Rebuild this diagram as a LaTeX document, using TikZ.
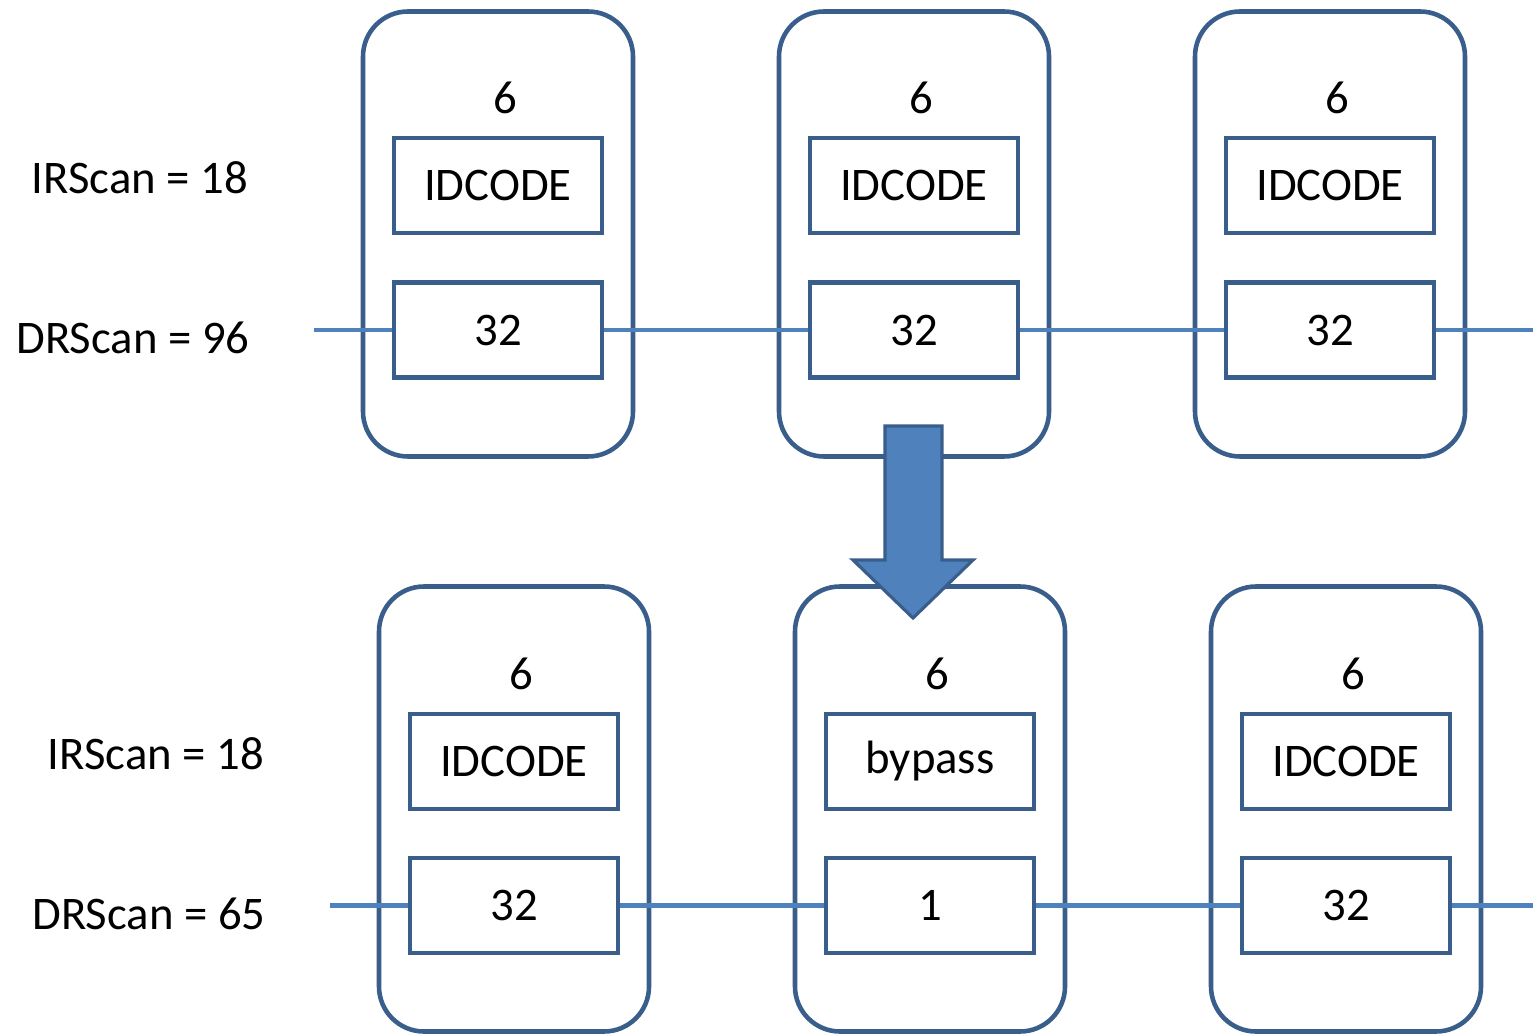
\documentclass[tikz,border=0pt]{standalone}
\usepackage{fontspec}
\setmainfont{Carlito}
\usetikzlibrary{positioning}
\definecolor{chipblue}{RGB}{58,94,139}
\definecolor{wireblue}{RGB}{79,129,189}

\begin{document}
\begin{tikzpicture}[
	chip/.style={draw=chipblue, line width=1.3pt, rounded corners=0.45cm, minimum width=2.70cm, minimum height=4.45cm},
	reg/.style={draw=chipblue, line width=1.3pt, minimum width=2.08cm, minimum height=0.95cm, inner sep=0pt, font=\fontsize{13.3}{16}\selectfont},
	wire/.style={draw=wireblue, line width=1.3pt},
	lbl/.style={inner sep=0pt, font=\fontsize{13.3}{16}\selectfont},
	bigarrow/.style={draw=chipblue, line width=0.9pt, fill=wireblue, line join=miter}]
			%%%%% START %%%%%
			\useasboundingbox (0, 0) rectangle (15.33, -10.34);
			
			% top chain
			\node[lbl] (irtop) at (1.40, -1.78) {IRScan = 18};
			\node[lbl] (drtop) at (1.33, -3.38) {DRScan = 96};
			
			\node[chip] (chipA) at (4.98, -2.34) {};
			\node[chip] (chipB) at (9.14, -2.34) {};
			\node[chip] (chipC) at (13.30, -2.34) {};
			
			\node[lbl] (irlenA) at (5.05, -0.98) {6};
			\node[lbl] (irlenB) at (9.21, -0.98) {6};
			\node[lbl] (irlenC) at (13.37, -0.98) {6};
			
			\node[reg] (irA) at (4.98, -1.855) {IDCODE};
			\node[reg] (irB) at (9.14, -1.855) {IDCODE};
			\node[reg] (irC) at (13.30, -1.855) {IDCODE};
			
			\node[reg] (drA) at (4.98, -3.30) {32};
			\node[reg] (drB) at (9.14, -3.30) {32};
			\node[reg] (drC) at (13.30, -3.30) {32};
			
			\coordinate (tdiIn) at (3.14, -3.30);
			\coordinate (tdoOut) at (15.33, -3.30);
			\draw[wire] (tdiIn) -- (drA.west);
			\draw[wire] (drA.east) -- (drB.west);
			\draw[wire] (drB.east) -- (drC.west);
			\draw[wire] (drC.east) -- (tdoOut);
			
			% bottom chain
			\node[lbl] (irbot) at (1.56, -7.54) {IRScan = 18};
			\node[lbl] (drbot) at (1.49, -9.14) {DRScan = 65};
			
			\node[chip] (chipD) at (5.14, -8.09) {};
			\node[chip] (chipE) at (9.30, -8.09) {};
			\node[chip] (chipF) at (13.46, -8.09) {};
			
			\node[lbl] (irlenD) at (5.21, -6.74) {6};
			\node[lbl] (irlenE) at (9.37, -6.74) {6};
			\node[lbl] (irlenF) at (13.53, -6.74) {6};
			
			\node[reg] (irD) at (5.14, -7.615) {IDCODE};
			\node[reg] (irE) at (9.30, -7.615) {bypass};
			\node[reg] (irF) at (13.46, -7.615) {IDCODE};
			
			\node[reg] (drD) at (5.14, -9.055) {32};
			\node[reg] (drE) at (9.30, -9.055) {1};
			\node[reg] (drF) at (13.46, -9.055) {32};
			
			\coordinate (tdiInB) at (3.30, -9.055);
			\coordinate (tdoOutB) at (15.33, -9.055);
			\draw[wire] (tdiInB) -- (drD.west);
			\draw[wire] (drD.east) -- (drE.west);
			\draw[wire] (drE.east) -- (drF.west);
			\draw[wire] (drF.east) -- (tdoOutB);
			
			% block arrow
			\draw[bigarrow] (8.85, -4.26) -- (9.42, -4.26) -- (9.42, -5.60) -- (9.73, -5.60)
				-- (9.13, -6.18) -- (8.53, -5.60) -- (8.85, -5.60) -- cycle;
			%%%%% END %%%%%
\end{tikzpicture}
\end{document}
